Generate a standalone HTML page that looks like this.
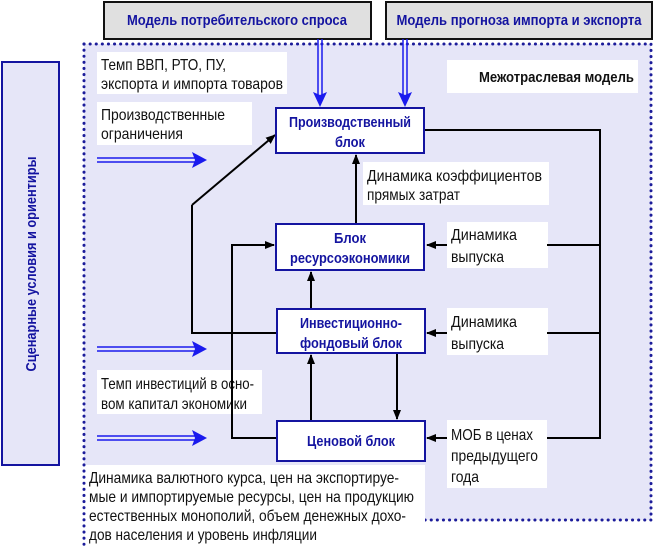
<!DOCTYPE html>
<html><head><meta charset="utf-8"><style>
html,body{margin:0;padding:0;background:#fff;}
svg{display:block;font-family:"Liberation Sans",sans-serif;}
.t{font-size:16px;fill:#111;}
.b{font-size:15px;font-weight:bold;fill:#1414a0;}
</style></head><body>
<svg width="655" height="550" viewBox="0 0 655 550" xmlns="http://www.w3.org/2000/svg">
<defs>
<marker id="ah" markerWidth="10" markerHeight="8" refX="9" refY="4" orient="auto" markerUnits="userSpaceOnUse"><path d="M0,0 L10,4 L0,8 Z" fill="#000"/></marker>
</defs>
<path d="M84,44 H651 V520 H425 V465 H84 Z" fill="#e6e6f8"/>
<path d="M84,44 H651 V520 H425" fill="none" stroke="#1c1c9a" stroke-width="3" stroke-dasharray="0.1 6" stroke-linecap="round"/>
<path d="M84,44 V545" fill="none" stroke="#1c1c9a" stroke-width="3" stroke-dasharray="0.1 6" stroke-linecap="round"/>
<rect x="104" y="2" width="267" height="37" fill="#e0e0e0" stroke="#111" stroke-width="2"/>
<text class="b" x="237" y="25" text-anchor="middle" textLength="220" lengthAdjust="spacingAndGlyphs">Модель потребительского спроса</text>
<rect x="386" y="2" width="266" height="37" fill="#e0e0e0" stroke="#111" stroke-width="2"/>
<text class="b" x="519" y="25" text-anchor="middle" textLength="245" lengthAdjust="spacingAndGlyphs">Модель прогноза импорта и экспорта</text>
<rect x="2" y="62" width="57" height="403" fill="#e6e6f8" stroke="#1414a0" stroke-width="2"/>
<text class="b" transform="translate(36,264) rotate(-90)" text-anchor="middle" textLength="215" lengthAdjust="spacingAndGlyphs">Сценарные условия и ориентиры</text>
<rect x="97" y="52" width="190" height="42" fill="#fff"/>
<text class="t" x="101" y="70" textLength="125" lengthAdjust="spacingAndGlyphs">Темп ВВП, РТО, ПУ,</text>
<text class="t" x="101" y="89" textLength="182" lengthAdjust="spacingAndGlyphs">экспорта и импорта товаров</text>
<rect x="447" y="60" width="191" height="33" fill="#fff"/>
<text class="b" x="634" y="82" text-anchor="end" style="fill:#111" textLength="155" lengthAdjust="spacingAndGlyphs">Межотраслевая модель</text>
<rect x="97" y="102" width="155" height="43" fill="#fff"/>
<text class="t" x="101" y="120" textLength="124" lengthAdjust="spacingAndGlyphs">Производственные</text>
<text class="t" x="101" y="139" textLength="82" lengthAdjust="spacingAndGlyphs">ограничения</text>
<rect x="363" y="162" width="186" height="43" fill="#fff"/>
<text class="t" x="367" y="181" textLength="175" lengthAdjust="spacingAndGlyphs">Динамика коэффициентов</text>
<text class="t" x="367" y="200" textLength="93" lengthAdjust="spacingAndGlyphs">прямых затрат</text>
<rect x="447" y="222" width="101" height="46" fill="#fff"/>
<text class="t" x="451" y="240" textLength="66" lengthAdjust="spacingAndGlyphs">Динамика</text>
<text class="t" x="451" y="262" textLength="53" lengthAdjust="spacingAndGlyphs">выпуска</text>
<rect x="447" y="308" width="101" height="47" fill="#fff"/>
<text class="t" x="451" y="327" textLength="66" lengthAdjust="spacingAndGlyphs">Динамика</text>
<text class="t" x="451" y="349" textLength="53" lengthAdjust="spacingAndGlyphs">выпуска</text>
<rect x="447" y="420" width="100" height="68" fill="#fff"/>
<text class="t" x="451" y="440" textLength="82" lengthAdjust="spacingAndGlyphs">МОБ в ценах</text>
<text class="t" x="451" y="461" textLength="87" lengthAdjust="spacingAndGlyphs">предыдущего</text>
<text class="t" x="451" y="482" textLength="28" lengthAdjust="spacingAndGlyphs">года</text>
<rect x="97" y="370" width="165" height="44" fill="#fff"/>
<text class="t" x="101" y="389" textLength="153" lengthAdjust="spacingAndGlyphs">Темп инвестиций в осно-</text>
<text class="t" x="101" y="409" textLength="146" lengthAdjust="spacingAndGlyphs">вом капитал экономики</text>
<rect x="86" y="465" width="339" height="82" fill="#fff"/>
<text class="t" x="89" y="483" textLength="310" lengthAdjust="spacingAndGlyphs">Динамика валютного курса, цен на экспортируе-</text>
<text class="t" x="89" y="502" textLength="325" lengthAdjust="spacingAndGlyphs">мые и импортируемые ресурсы, цен на продукцию</text>
<text class="t" x="89" y="521" textLength="317" lengthAdjust="spacingAndGlyphs">естественных монополий, объем денежных дохо-</text>
<text class="t" x="89" y="540" textLength="228" lengthAdjust="spacingAndGlyphs">дов населения и уровень инфляции</text>
<g fill="none" stroke="#000" stroke-width="2">
<polyline points="424,130 600,130 600,438 547,438"/>
<line x1="547" y1="245" x2="600" y2="245"/>
<line x1="547" y1="333" x2="600" y2="333"/>
<line x1="447" y1="245" x2="427" y2="245" marker-end="url(#ah)"/>
<line x1="447" y1="333" x2="427" y2="333" marker-end="url(#ah)"/>
<line x1="447" y1="438" x2="427" y2="438" marker-end="url(#ah)"/>
<polyline points="277,333 192,333 192,205"/>
<line x1="192" y1="205" x2="275" y2="135" marker-end="url(#ah)"/>
<polyline points="277,438 232,438 232,245 274,245" marker-end="url(#ah)"/>
<line x1="311" y1="309" x2="311" y2="272" marker-end="url(#ah)"/>
<line x1="311" y1="421" x2="311" y2="355" marker-end="url(#ah)"/>
<line x1="397" y1="353" x2="397" y2="419" marker-end="url(#ah)"/>
<line x1="356" y1="224" x2="356" y2="155" marker-end="url(#ah)"/>
</g>
<g stroke="#1a1aee" stroke-width="1.5" fill="none">
<line x1="97" y1="158" x2="196" y2="158"/><line x1="97" y1="162" x2="196" y2="162"/>
<line x1="97" y1="347" x2="196" y2="347"/><line x1="97" y1="351" x2="196" y2="351"/>
<line x1="97" y1="436" x2="196" y2="436"/><line x1="97" y1="440" x2="196" y2="440"/>
<line x1="318" y1="39" x2="318" y2="96"/><line x1="322" y1="39" x2="322" y2="96"/>
<line x1="403" y1="39" x2="403" y2="96"/><line x1="407" y1="39" x2="407" y2="96"/>
</g>
<g fill="#1a1aee">
<path d="M192,152 L207,160 L192,168 L195,160Z"/>
<path d="M192,341 L207,349 L192,357 L195,349Z"/>
<path d="M192,430 L207,438 L192,446 L195,438Z"/>
<path d="M313,92 L320,107 L327,92 L320,95Z"/>
<path d="M398,92 L405,107 L412,92 L405,95Z"/>
</g>
<g fill="#fff" stroke="#1414a0" stroke-width="2">
<rect x="276" y="108" width="148" height="45"/>
<rect x="276" y="224" width="148" height="46"/>
<rect x="277" y="309" width="148" height="44"/>
<rect x="277" y="421" width="148" height="40"/>
</g>
<text class="b" x="350" y="127" text-anchor="middle" textLength="122" lengthAdjust="spacingAndGlyphs">Производственный</text>
<text class="b" x="350" y="147" text-anchor="middle" textLength="30" lengthAdjust="spacingAndGlyphs">блок</text>
<text class="b" x="350" y="243" text-anchor="middle" textLength="32" lengthAdjust="spacingAndGlyphs">Блок</text>
<text class="b" x="350" y="263" text-anchor="middle" textLength="120" lengthAdjust="spacingAndGlyphs">ресурсоэкономики</text>
<text class="b" x="351" y="328" text-anchor="middle" textLength="102" lengthAdjust="spacingAndGlyphs">Инвестиционно-</text>
<text class="b" x="351" y="348" text-anchor="middle" textLength="102" lengthAdjust="spacingAndGlyphs">фондовый блок</text>
<text class="b" x="351" y="446" text-anchor="middle" textLength="88" lengthAdjust="spacingAndGlyphs">Ценовой блок</text>
</svg>
</body></html>
